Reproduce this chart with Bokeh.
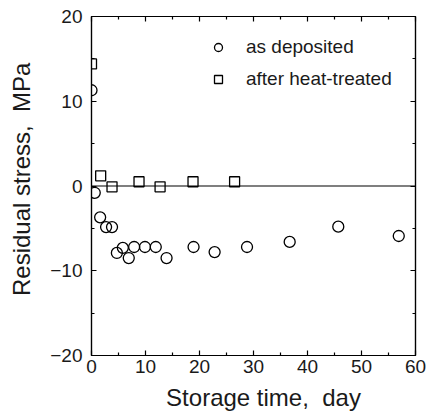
from bokeh.plotting import figure
from bokeh.models import Range1d, LinearAxis, Span, Legend, LegendItem, FixedTicker
from bokeh.embed import file_html
from bokeh.resources import INLINE

# as deposited
dep_day = [0, 0.6, 1.6, 2.7, 3.8, 4.7, 5.8, 6.9, 7.9, 9.9, 11.9, 13.9, 18.9, 22.8, 28.8, 36.7, 45.7, 56.9]
dep_stress = [11.3, -0.8, -3.7, -4.85, -4.85, -7.9, -7.3, -8.5, -7.2, -7.2, -7.2, -8.5, -7.2, -7.8, -7.2, -6.6, -4.8, -5.9]

# after heat-treated
ht_day = [0, 1.7, 3.8, 8.8, 12.7, 18.8, 26.5]
ht_stress = [14.4, 1.2, -0.1, 0.5, -0.1, 0.5, 0.5]

x_ticks = [0, 10, 20, 30, 40, 50, 60]
y_ticks = [-20, -10, 0, 10, 20]

x_title = "\u00a0\u00a0\u00a0Storage time,\u00a0 day"
y_title = "\u00a0\u00a0Residual stress,\u00a0 MPa"

FONT = "Liberation Sans"
TXT = "#1a1a1a"

p = figure(width=432, height=414, output_backend="svg", toolbar_location=None,
           x_range=Range1d(0, 60), y_range=Range1d(-20, 20),
           min_border_left=91, min_border_right=17, min_border_top=16, min_border_bottom=59,
           x_axis_location=None, y_axis_location=None)
p.grid.visible = False
p.outline_line_color = "black"
p.outline_line_width = 1.2
p.background_fill_color = "white"
p.border_fill_color = "white"

def style_axis(ax, ticks, labels=True):
    ax.ticker = FixedTicker(ticks=ticks, minor_ticks=[t + 5 for t in ticks[:-1]])
    ax.major_tick_in = 5
    ax.major_tick_out = 0
    ax.minor_tick_in = 3
    ax.minor_tick_out = 0
    ax.axis_line_color = "black"
    ax.axis_line_width = 1.2
    ax.major_tick_line_width = 1.2
    ax.minor_tick_line_width = 1.2
    ax.major_label_text_font = FONT
    ax.major_label_text_font_size = "19px"
    ax.major_label_text_color = TXT
    ax.axis_label_text_font = FONT
    ax.axis_label_text_font_size = "24px"
    ax.axis_label_text_font_style = "normal"
    ax.axis_label_text_color = TXT
    if not labels:
        ax.major_label_text_font_size = "0px"
        ax.major_label_text_alpha = 0

xb = LinearAxis(axis_label=x_title)
style_axis(xb, x_ticks)
xb.major_label_standoff = 4
xb.axis_label_standoff = 8
p.add_layout(xb, "below")

yl = LinearAxis(axis_label=y_title)
style_axis(yl, y_ticks)
yl.major_label_standoff = 9
yl.axis_label_standoff = 12
p.add_layout(yl, "left")

xt = LinearAxis()
style_axis(xt, x_ticks, labels=False)
p.add_layout(xt, "above")
yr = LinearAxis()
style_axis(yr, y_ticks, labels=False)
p.add_layout(yr, "right")

p.add_layout(Span(location=0, dimension="width", line_color="black", line_width=1.2))

r1 = p.scatter(dep_day, dep_stress, marker="circle", size=11, fill_color=None,
               line_color="black", line_width=1.3)
r2 = p.scatter(ht_day, ht_stress, marker="square", size=10, fill_color=None,
               line_color="black", line_width=1.3)

legend = Legend(items=[LegendItem(label="as deposited", renderers=[r1]),
                       LegendItem(label="after heat-treated", renderers=[r2])],
                location=(117, 265), orientation="vertical",
                glyph_width=20, glyph_height=22, label_height=22, spacing=10,
                label_standoff=18, padding=0, margin=0,
                border_line_color=None, background_fill_alpha=0,
                label_text_font=FONT, label_text_font_size="19px",
                label_text_color=TXT)
p.add_layout(legend, "center")

open("out.html", "w").write(file_html(p, INLINE))
